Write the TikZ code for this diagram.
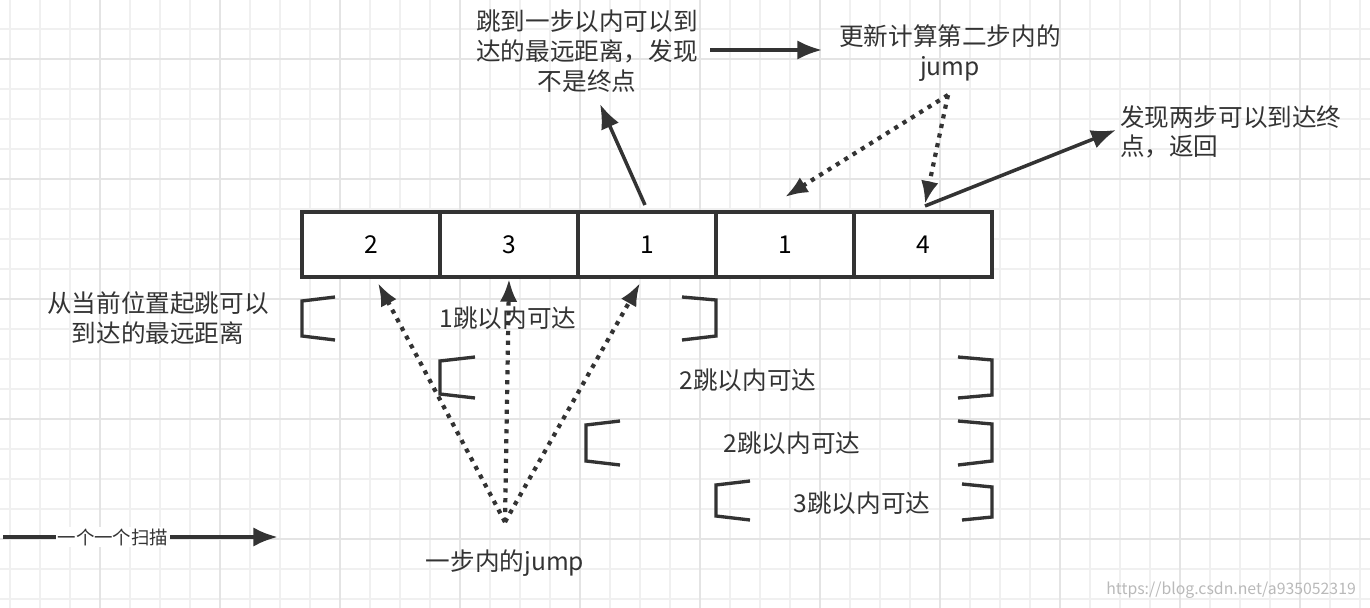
\documentclass[tikz,border=0pt]{standalone}
\usepackage{fontspec}
\setmainfont{Noto Sans CJK SC}
\usepackage{tikz}
\usetikzlibrary{positioning,arrows.meta}

\definecolor{ink}{HTML}{333333}
\definecolor{gridminor}{HTML}{F0F0F0}
\definecolor{gridmajor}{HTML}{E4E4E4}

\tikzset{
    cell/.style={draw=ink, line width=2.2pt, minimum width=2.76cm, minimum height=1.3cm, inner sep=0pt, font=\fontsize{14}{17}\selectfont},
    lbl/.style={align=center, text=ink, inner sep=1pt, font=\fontsize{14}{17}\selectfont},
    solidarr/.style={draw=ink, line width=2pt, -{Latex[length=14pt,width=11pt]}},
    dotarr/.style={draw=ink, line width=2.4pt, dash pattern=on 2.4pt off 3.2pt, -{Latex[length=13pt,width=10pt]}},
    brk/.style={draw=ink, line width=1.9pt},
}

\begin{document}
\begin{tikzpicture}[x=0.02cm, y=-0.02cm]
        \useasboundingbox (0,0) rectangle (1370,608);

        % grid
        \foreach \i in {0, 1, ..., 45} {
            \draw[gridminor, line width=0.8pt] (10+\i*30, 0) -- (10+\i*30, 608);
        }
        \foreach \i in {0, 1, ..., 20} {
            \draw[gridminor, line width=0.8pt] (0, -1+\i*30) -- (1370, -1+\i*30);
        }
        \foreach \i in {0, 1, ..., 11} {
            \draw[gridmajor, line width=1pt] (100+\i*120, 0) -- (100+\i*120, 608);
        }
        \foreach \i in {0, 1, ..., 4} {
            \draw[gridmajor, line width=1pt] (0, 59+\i*120) -- (1370, 59+\i*120);
        }

        % array cells
        \foreach \v [count=\i] in {2, 3, 1, 1, 4} {
            \node[cell, fill=white] (c\i) at (371+\i*138-138, 244.5) {\v};
        }

        % texts
        \node[lbl] (far) at (587, 51) {跳到一步以内可以到\\达的最远距离，发现\\不是终点};
        \node[lbl] (upd) at (950, 53) {更新计算第二步内的\\jump};
        \node[lbl, align=left, anchor=west] (ret) at (1118, 132) {发现两步可以到达终\\点，返回};
        \node[lbl] (from) at (158, 318) {从当前位置起跳可以\\到达的最远距离};
        \node[lbl] (one) at (508, 318) {1跳以内可达};
        \node[lbl] (twoa) at (748, 380) {2跳以内可达};
        \node[lbl] (twob) at (792, 443) {2跳以内可达};
        \node[lbl] (three) at (862, 503) {3跳以内可达};
        \node[lbl] (jump) at (505, 563) {一步内的jump};
        \node[text=gray!55, font=\fontsize{9}{10}\selectfont, anchor=east] (mark) at (1362, 590) {https://blog.csdn.net/a935052319};

        % connectors
        \coordinate (src) at (505, 522);
        \coordinate (fork) at (948, 95);
        \draw[solidarr] (645, 205) -- (600, 104);
        \draw[solidarr] (710, 50) -- (822, 50);
        \draw[dotarr] (fork) -- (785, 197);
        \draw[dotarr] (fork) -- (925, 204);
        \draw[solidarr] (925, 206) -- (1116, 130);
        \draw[dotarr] (src) -- (378, 283);
        \draw[dotarr] (src) -- (c2.south);
        \draw[dotarr] (src) -- (640, 283);

        % scan arrow
        \draw[solidarr, line width=2.4pt] (3, 537) -- (278, 537)
            node[lbl, fill=white, pos=0.4, font=\fontsize{10.5}{12}\selectfont] (scan) {一个一个扫描};

        % brackets
        \draw[brk] (335, 297) -- (302, 301) -- (302, 336) -- (335, 340);
        \draw[brk] (682, 297) -- (716, 300) -- (716, 336) -- (682, 340);
        \draw[brk] (475, 357) -- (440, 361) -- (440, 394) -- (475, 398);
        \draw[brk] (958, 357) -- (992, 360) -- (992, 395) -- (958, 398);
        \draw[brk] (620, 421) -- (586, 425) -- (586, 461) -- (620, 465);
        \draw[brk] (958, 421) -- (992, 424) -- (992, 461) -- (958, 465);
        \draw[brk] (750, 481) -- (716, 485) -- (716, 516) -- (750, 520);
        \draw[brk] (962, 484) -- (992, 487) -- (992, 517) -- (962, 520);
\end{tikzpicture}
\end{document}
